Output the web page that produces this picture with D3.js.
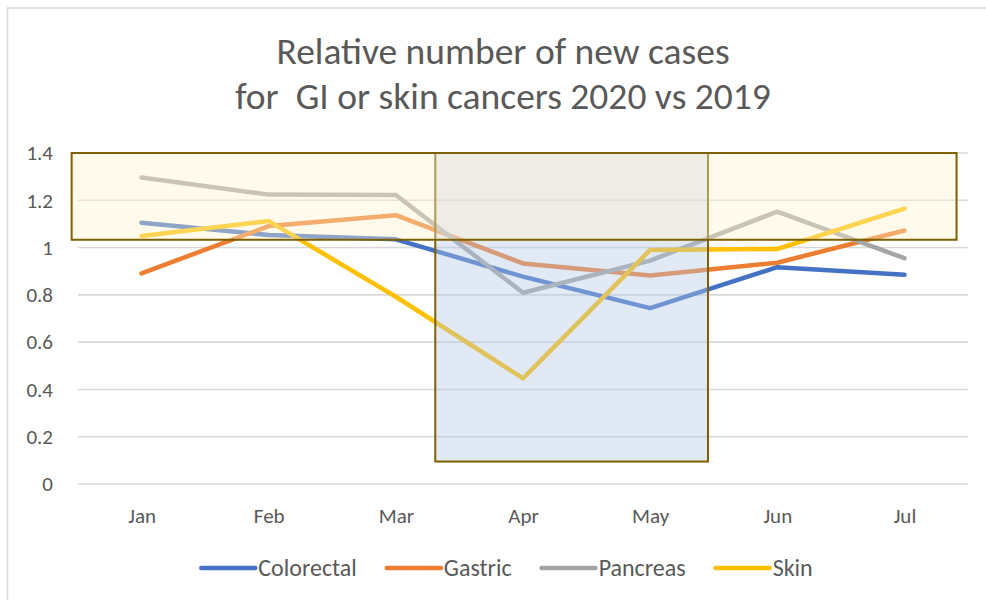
<!DOCTYPE html>
<html>
<head>
<meta charset="utf-8">
<script src="https://cdn.jsdelivr.net/npm/d3@7"></script>
<style>
  html, body { margin: 0; padding: 0; background: #fff; }
  text { font-family: Calibri, Carlito, Lato, sans-serif; fill: #595959; }
</style>
</head>
<body>
<div id="main"></div>
<script>
// chart data //
const months = ['Jan', 'Feb', 'Mar', 'Apr', 'May', 'Jun', 'Jul'];
const colorectal = [1.105, 1.053, 1.035, 0.877, 0.744, 0.917, 0.885];
const gastric    = [0.891, 1.091, 1.137, 0.933, 0.882, 0.936, 1.072];
const pancreas   = [1.296, 1.224, 1.222, 0.809, 0.945, 1.152, 0.955];
const skin       = [1.049, 1.112, 0.792, 0.447, 0.990, 0.994, 1.165];
const seriesNames = ['Colorectal', 'Gastric', 'Pancreas', 'Skin'];
const yTicks = [0, 0.2, 0.4, 0.6, 0.8, 1, 1.2, 1.4];
const titleLines = ['Relative number of new cases', 'for  GI or skin cancers 2020 vs 2019'];

// highlight boxes drawn over the chart (x in month index, y in values)
const boxBlue   = { x0: 2.31, x1: 4.455, y0: 0.095, y1: 1.4 };
const boxYellow = { x0: -0.55, x1: 6.41, y0: 1.033, y1: 1.4 };

const allSeries = [colorectal, gastric, pancreas, skin];
const colors = ['#4472C4', '#ED7D31', '#A5A5A5', '#FFC000'];

const w = 986;
const h = 600;

const svg = d3.select('#main')
    .append('svg')
    .attr('width', w)
    .attr('height', h);

// outer chart border
svg.append('rect')
    .attr('x', 7.5).attr('y', 8)
    .attr('width', w + 20).attr('height', h + 20)
    .attr('fill', '#fff')
    .attr('stroke', '#D9D9D9')
    .attr('stroke-width', 1.5);

// title
svg.append('text')
    .attr('text-anchor', 'middle')
    .style('font-size', '37.5px')
    .attr('xml:space', 'preserve')
    .style('white-space', 'pre')
    .selectAll('tspan')
    .data(titleLines)
    .enter()
    .append('tspan')
    .attr('x', 503)
    .attr('y', (d, i) => 64 + i * 45)
    .text(d => d);

// scales
const xScale = d3.scaleLinear()
    .domain([-0.5, months.length - 0.5])
    .range([78, 968]);

const yScale = d3.scaleLinear()
    .domain([0, 1.4])
    .range([484, 153]);

// gridlines
svg.append('g')
    .selectAll('line')
    .data(yTicks)
    .enter()
    .append('line')
    .attr('x1', xScale.range()[0])
    .attr('x2', xScale.range()[1])
    .attr('y1', d => yScale(d))
    .attr('y2', d => yScale(d))
    .attr('stroke', '#D9D9D9')
    .attr('stroke-width', 1.6);

// y axis labels
const yAxis = d3.axisLeft(yScale)
    .tickValues(yTicks)
    .tickFormat(d => d3.format('~g')(d))
    .tickSize(0)
    .tickPadding(0);

svg.append('g')
    .attr('transform', 'translate(53,0)')
    .call(yAxis)
    .call(g => g.select('.domain').remove())
    .selectAll('text')
    .style('font-size', '21px')
    .attr('fill', '#595959');

// x axis labels
const xAxis = d3.axisBottom(xScale)
    .tickValues(d3.range(months.length))
    .tickFormat((d, i) => months[i])
    .tickSize(0)
    .tickPadding(0);

svg.append('g')
    .attr('transform', 'translate(0,508)')
    .call(xAxis)
    .call(g => g.select('.domain').remove())
    .selectAll('text')
    .style('font-size', '21px')
    .attr('fill', '#595959');

svg.selectAll('g').attr('font-family', null).attr('font-size', null);

// lines
const line = d3.line()
    .x((d, i) => xScale(i))
    .y(d => yScale(d));

svg.append('g')
    .selectAll('path')
    .data(allSeries)
    .enter()
    .append('path')
    .attr('d', d => line(d))
    .attr('fill', 'none')
    .attr('stroke', (d, i) => colors[i])
    .attr('stroke-width', 4.5)
    .attr('stroke-linecap', 'round')
    .attr('stroke-linejoin', 'round');

// highlight boxes (blue under, yellow on top)
const drawBox = (b, fill, op) => {
    svg.append('rect')
        .attr('x', xScale(b.x0))
        .attr('y', yScale(b.y1))
        .attr('width', xScale(b.x1) - xScale(b.x0))
        .attr('height', yScale(b.y0) - yScale(b.y1))
        .attr('fill', fill)
        .attr('fill-opacity', op)
        .attr('stroke', '#7F6000')
        .attr('stroke-width', 2);
};
drawBox(boxBlue, '#B4C7E7', 0.4);
drawBox(boxYellow, '#FFF2CC', 0.4);

// legend
const legend = svg.append('g');
const items = legend.selectAll('g')
    .data(seriesNames)
    .enter()
    .append('g');

items.append('line')
    .attr('x1', 2).attr('x2', 56)
    .attr('y1', 0).attr('y2', 0)
    .attr('stroke', (d, i) => colors[i])
    .attr('stroke-width', 4.5)
    .attr('stroke-linecap', 'round');

items.append('text')
    .attr('x', 59)
    .attr('y', 0)
    .attr('dy', '0.35em')
    .style('font-size', '24px')
    .text(d => d);

let xPos = 0;
const gap = 28;
items.each(function () {
    const tw = d3.select(this).select('text').node().getComputedTextLength();
    d3.select(this).attr('data-x', xPos);
    xPos += 59 + tw + gap;
});
const total = xPos - gap;
const start = 506 - total / 2;
items.attr('transform', function () {
    return 'translate(' + (start + (+d3.select(this).attr('data-x'))) + ',568)';
});
</script>
</body>
</html>
